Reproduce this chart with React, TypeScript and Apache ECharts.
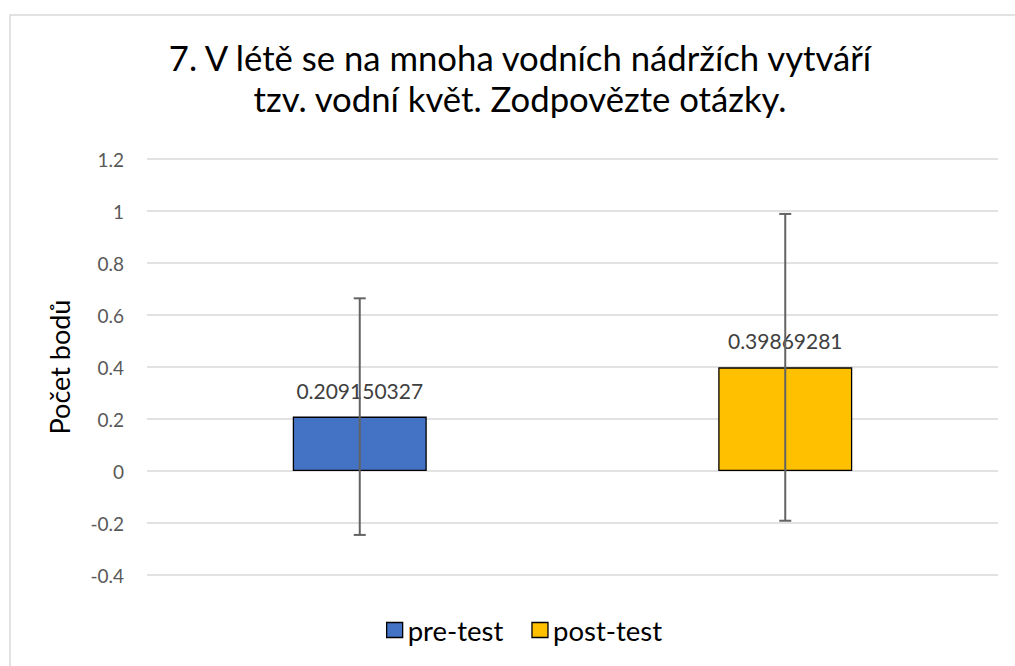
import React, { useEffect, useRef } from "react";
import * as echarts from "echarts";

const titleText = "7. V létě se na mnoha vodních nádržích vytváří\ntzv. vodní květ. Zodpovězte otázky.";
const categories = ["pre-test", "post-test"];
const seriesNames = ["pre-test", "post-test"];
const meanValues = [0.209150327, 0.39869281];
const errorMargins = [0.455, 0.59];
const seriesColors = ["#4472C4", "#FFC000"];
const yAxisName = "Počet bodů";

export default function App() {
  const ref = useRef<HTMLDivElement>(null);
  useEffect(() => {
    if (!ref.current) return;
    const chart = echarts.init(ref.current, null, { renderer: "svg" });
    const font = "Lato";
    const barSeries = seriesNames.map((name, i) => ({
      name,
      type: "bar",
      barWidth: 134,
      barGap: "-100%",
      data: categories.map((_, j) => (j === i ? meanValues[j] : null)),
      itemStyle: { color: seriesColors[i], borderColor: "#000", borderWidth: 1.3 },
      label: {
        show: true,
        position: "top",
        distance: 16,
        color: "#404040",
        fontFamily: font,
        fontSize: 21,
        formatter: (p: any) => String(p.value),
      },
      z: 2,
    }));
    const errorData = categories.map((_, i) => [i, meanValues[i] - errorMargins[i], meanValues[i] + errorMargins[i]]);
    chart.setOption({
      animation: false,
      textStyle: { fontFamily: font },
      title: {
        text: titleText,
        left: 515,
        top: 32,
        textAlign: "center",
        textStyle: { fontFamily: font, fontSize: 34.7, fontWeight: "normal", color: "#000", lineHeight: 41 },
      },
      graphic: [
        {
          type: "rect",
          shape: { x: 10, y: 15, width: 1020, height: 700 },
          style: { fill: "none", stroke: "#D9D9D9", lineWidth: 1.5 },
          silent: true,
        },
      ],
      legend: {
        data: seriesNames,
        left: 381,
        top: 611,
        itemWidth: 16,
        itemHeight: 15,
        itemGap: 28,
        icon: "rect",
        itemStyle: { borderColor: "#000", borderWidth: 1.3 },
        textStyle: { fontFamily: font, fontSize: 27.5, color: "#000" },
      },
      grid: { left: 147, right: 17, top: 159, bottom: 91 },
      xAxis: {
        type: "category",
        data: categories,
        axisLine: { show: false },
        axisTick: { show: false },
        axisLabel: { show: false },
      },
      yAxis: {
        type: "value",
        min: -0.4,
        max: 1.2,
        interval: 0.2,
        name: yAxisName,
        nameLocation: "middle",
        nameRotate: 90,
        nameGap: 74,
        nameTextStyle: { fontFamily: font, fontSize: 27, color: "#000" },
        axisLine: { show: false },
        axisTick: { show: false },
        axisLabel: {
          margin: 23,
          color: "#595959",
          fontFamily: font,
          fontSize: 19,
          formatter: (v: number) => String(Math.round(v * 10) / 10),
        },
        splitLine: { lineStyle: { color: "#D9D9D9", width: 1.5 } },
      },
      series: [
        ...barSeries,
        {
          type: "custom",
          name: "error",
          data: errorData,
          z: 5,
          renderItem: (params: any, api: any) => {
            const x = api.value(0);
            const lo = api.coord([x, api.value(1)]);
            const hi = api.coord([x, api.value(2)]);
            const hw = 6;
            const style = { stroke: "#636363", lineWidth: 2 };
            return {
              type: "group",
              children: [
                { type: "line", shape: { x1: lo[0], y1: lo[1], x2: hi[0], y2: hi[1] }, style },
                { type: "line", shape: { x1: hi[0] - hw, y1: hi[1], x2: hi[0] + hw, y2: hi[1] }, style },
                { type: "line", shape: { x1: lo[0] - hw, y1: lo[1], x2: lo[0] + hw, y2: lo[1] }, style },
              ],
            };
          },
        },
      ],
    });
    return () => chart.dispose();
  }, []);
  return (
    <div
      ref={ref}
      style={{ position: "fixed", left: 0, top: 0, width: 1015, height: 666, background: "#fff" }}
    />
  );
}
